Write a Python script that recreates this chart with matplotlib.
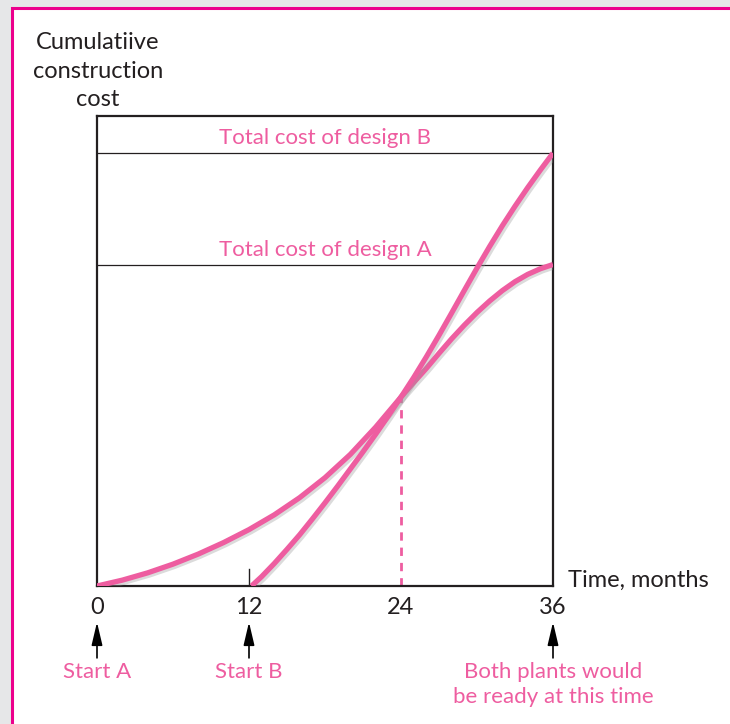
import matplotlib.pyplot as plt
import matplotlib.patheffects as pe
from matplotlib.patches import Rectangle

plt.rcParams['font.family'] = ['Lato', 'DejaVu Sans']

# data (cost on 0-100 scale of the plot height)
months_a = [0, 2, 4, 6, 8, 10, 12, 14, 16, 18, 20, 22, 24, 25, 26, 27, 28, 29, 30, 31, 32, 33, 34, 35, 36]
cost_a = [0, 1.25, 2.8, 4.65, 6.8, 9.25, 12.0, 15.15, 18.8, 23.05, 28.0, 33.8, 40.2, 43.3, 46.3,
          49.5, 52.6, 55.5, 58.2, 60.65, 62.85, 64.75, 66.3, 67.5, 68.4]
months_b = [12.2, 13, 14, 15, 16, 17, 18, 19, 20, 21, 22, 23, 24, 25, 26, 27, 28, 29, 30, 31, 32, 33, 34, 35, 36]
cost_b = [0, 2.0, 4.8, 7.8, 10.9, 14.25, 17.7, 21.25, 24.9, 28.55, 32.3, 36.2, 40.2, 44.35, 48.75,
          53.35, 58.1, 62.9, 67.65, 72.25, 76.65, 80.8, 84.75, 88.5, 92.1]
total_a = 68.4
total_b = 92.1
cross_month = 24
cross_cost = 40.2
xticks = [0, 12, 24, 36]
markers = [(0, 'Start A'), (12, 'Start B'), (36, 'Both plants would\nbe ready at this time')]

pink = '#EE5DA0'
dark = '#231F20'
fig = plt.figure(figsize=(7.3, 7.24), dpi=100)

# page frame
fig.add_artist(Rectangle((0, 0), 1, 1, transform=fig.transFigure, facecolor='#E6E7E8', edgecolor='none', zorder=-10))
fig.add_artist(Rectangle((11.5 / 730, -0.01), 1.0, 1 - 7.5 / 724 + 0.01, transform=fig.transFigure,
                         facecolor='white', edgecolor='#EC008C', linewidth=2.2, zorder=-9))

ax = fig.add_axes([97 / 730, 138 / 724, 456 / 730, 470 / 724])
ax.set_xlim(0, 36)
ax.set_ylim(0, 100)
for s in ax.spines.values():
    s.set_linewidth(1.6)
    s.set_color(dark)
ax.set_xticks([])
ax.set_yticks([])
ax.patch.set_alpha(0)

shadow = [pe.SimpleLineShadow(offset=(1.5, -1.5), shadow_color='#999999', alpha=0.35), pe.Normal()]
ax.plot(months_a, cost_a, color=pink, lw=3.8, solid_capstyle='butt', solid_joinstyle='round',
        path_effects=shadow, zorder=3)
ax.plot(months_b, cost_b, color=pink, lw=3.8, solid_capstyle='butt', solid_joinstyle='round',
        path_effects=shadow, zorder=3)

ax.axhline(total_b, color=dark, lw=0.9)
ax.axhline(total_a, color=dark, lw=0.9)
ax.text(18, total_b + 1.0, 'Total cost of design B', color=pink, fontsize=16, ha='center', va='bottom')
ax.text(18, total_a + 1.0, 'Total cost of design A', color=pink, fontsize=16, ha='center', va='bottom')

ax.plot([cross_month, cross_month], [0, cross_cost], color=pink, lw=2, ls=(0, (3, 2.5)), zorder=2)
ax.plot([12, 12], [0, 3.6], color=dark, lw=1)

for t in xticks:
    ax.text(t, -2.3, str(t), fontsize=17, ha='center', va='top', color=dark, clip_on=False)

ax.text(37.2, 1.1, 'Time, months', fontsize=17, ha='left', va='center', color=dark, clip_on=False)
fig.text(98 / 730, 1 - 71 / 724, 'Cumulatiive\nconstruction\ncost', fontsize=17, ha='center', va='center',
         color=dark, linespacing=1.42)

for t, label in markers:
    ax.annotate('', xy=(t, -7.7), xytext=(t, -15.3), xycoords='data', textcoords='data',
                arrowprops=dict(arrowstyle='-|>,head_length=1.4,head_width=0.33', color='black', lw=1.2,
                                shrinkA=0, shrinkB=0),
                annotation_clip=False)
    ax.text(t, -16.2, label, fontsize=16, color=pink, ha='center', va='top', linespacing=1.32, clip_on=False)

fig.savefig('out.png', dpi=100)
